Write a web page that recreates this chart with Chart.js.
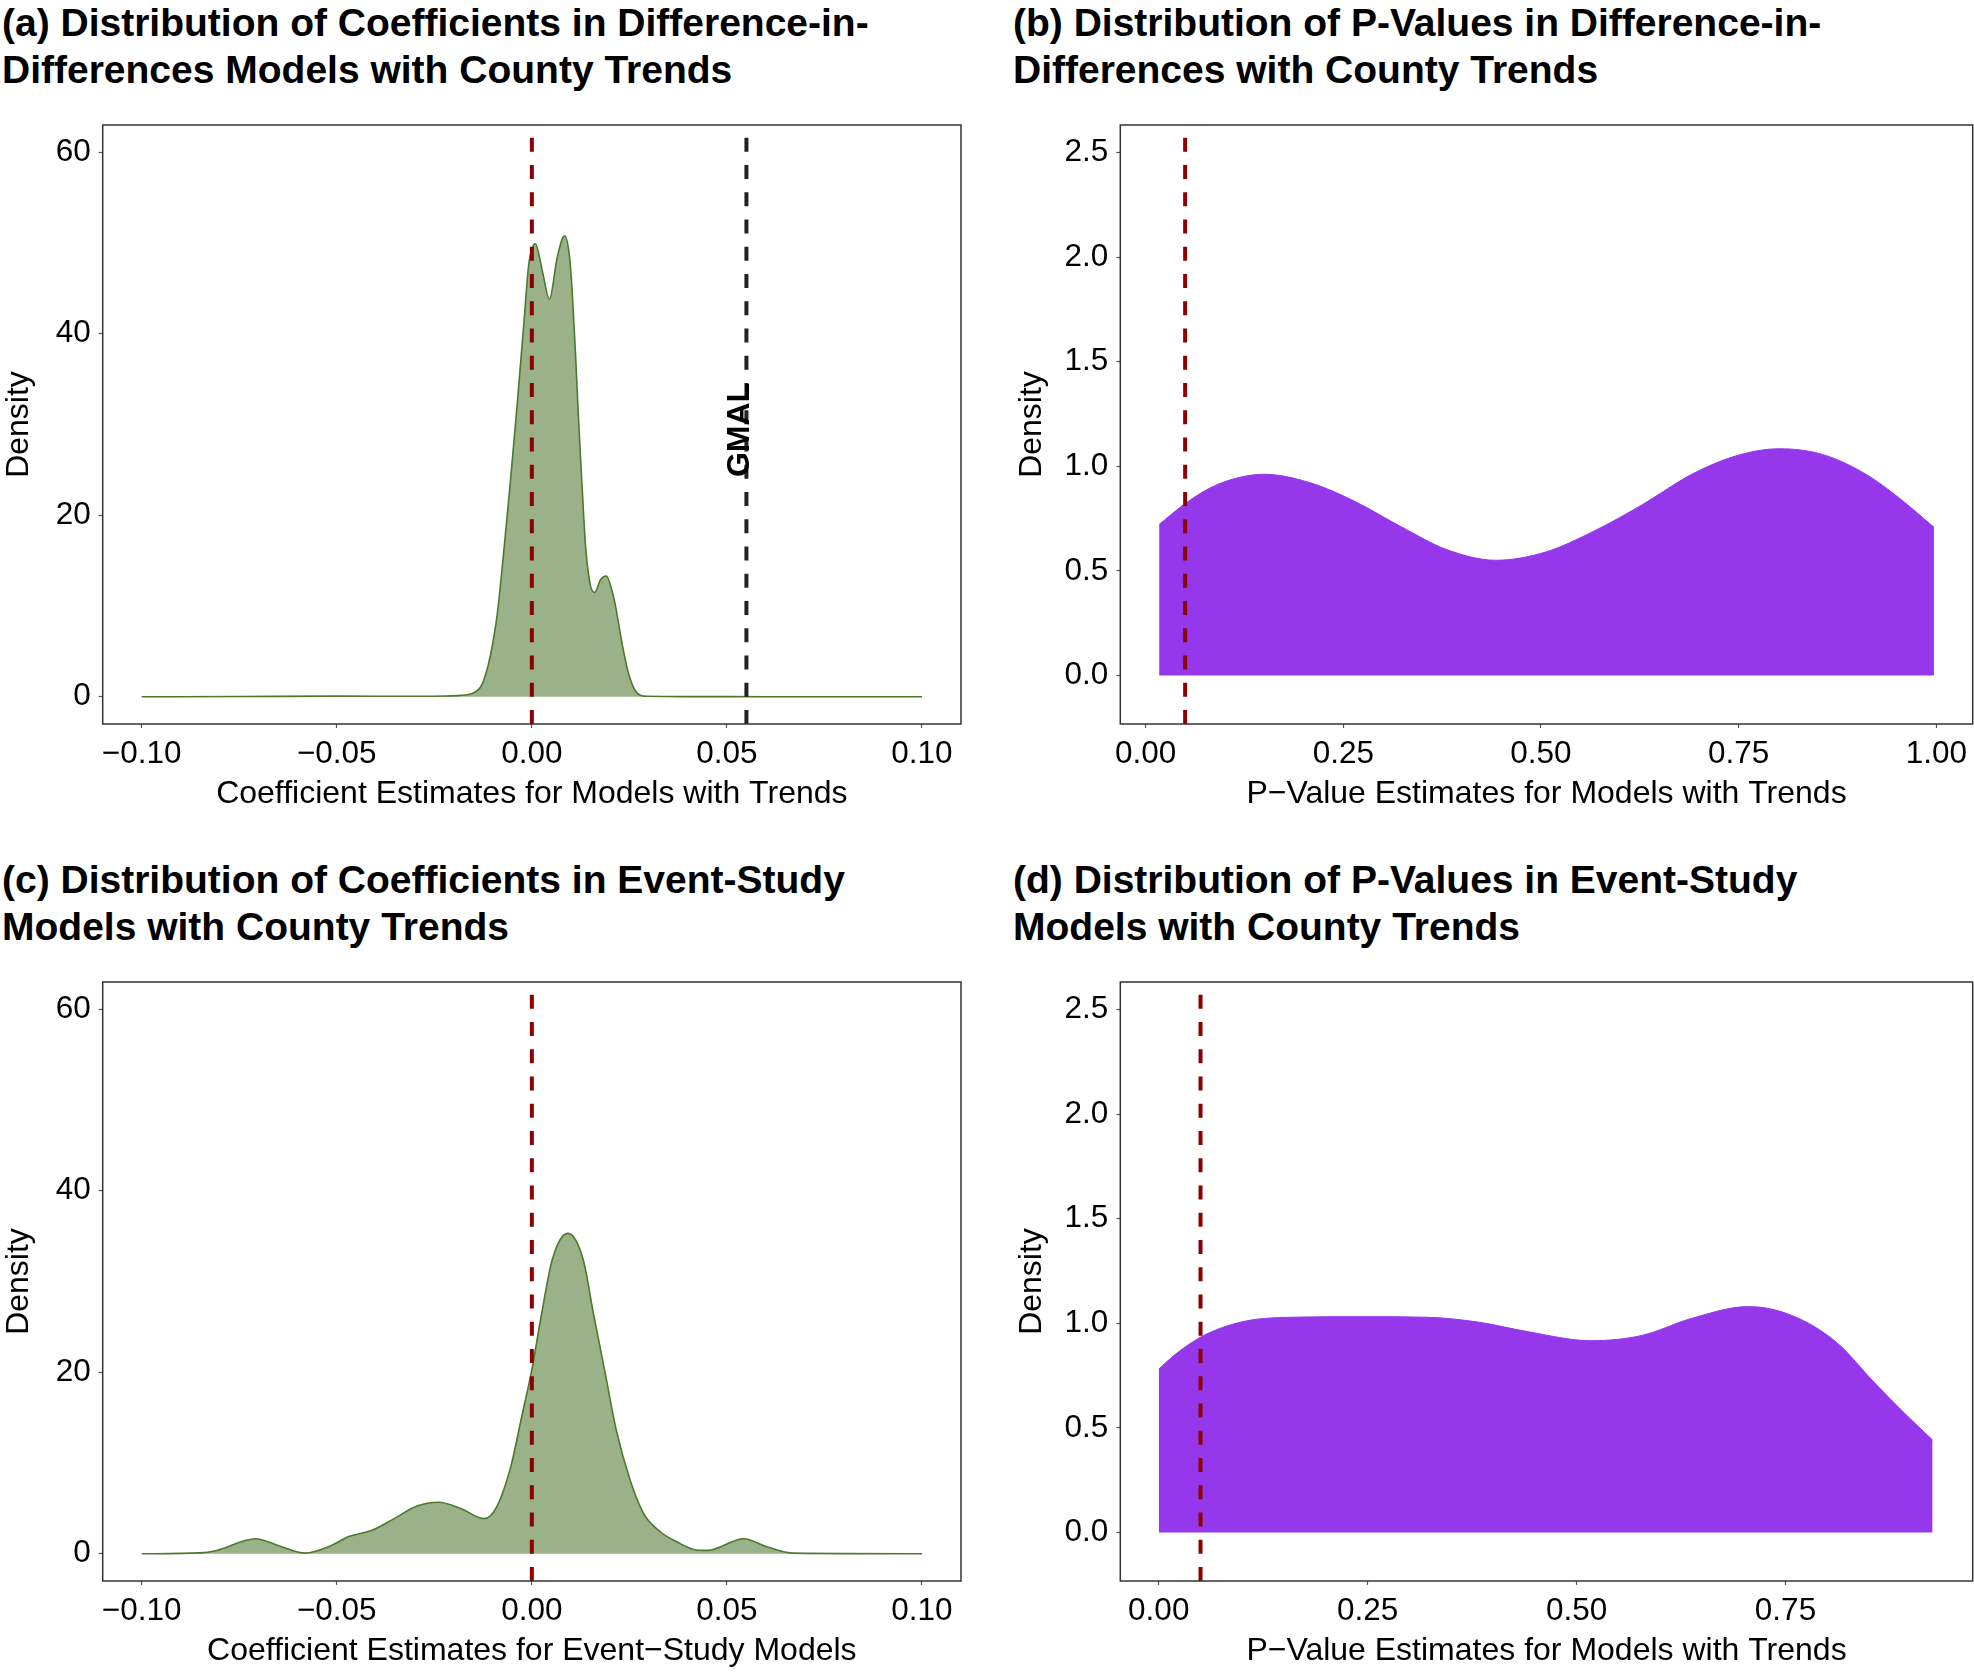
<!DOCTYPE html>
<html>
<head>
<meta charset="utf-8">
<script src="https://cdn.jsdelivr.net/npm/chart.js@4.4.0/dist/chart.umd.min.js"></script>
<style>
  body { margin: 0; background: #fff; width: 1974px; height: 1673px; position: relative; overflow: hidden;
         font-family: "Liberation Sans", Arial, sans-serif; }
  .ttl { position: absolute; font-weight: bold; font-size: 39px; line-height: 46.5px; color: #000; white-space: nowrap; }
  canvas { position: absolute; }
</style>
</head>
<body>
<div class="ttl" style="left:2px;top:0px">(a) Distribution of Coefficients in Difference-in-<br>Differences Models with County Trends</div>
<div class="ttl" style="left:1013px;top:0px">(b) Distribution of P-Values in Difference-in-<br>Differences with County Trends</div>
<div class="ttl" style="left:2px;top:857px">(c) Distribution of Coefficients in Event-Study<br>Models with County Trends</div>
<div class="ttl" style="left:1013px;top:857px">(d) Distribution of P-Values in Event-Study<br>Models with County Trends</div>

<canvas id="chartA" width="987" height="730" style="left:0;top:105px"></canvas>
<canvas id="chartB" width="961" height="730" style="left:1013px;top:105px"></canvas>
<canvas id="chartC" width="987" height="730" style="left:0;top:962px"></canvas>
<canvas id="chartD" width="961" height="730" style="left:1013px;top:962px"></canvas>

<script>
// (a) density of DiD coefficients
const didCoefX = [-0.100, -0.075, -0.050, -0.030, -0.022, -0.0183, -0.0157, -0.0131, -0.0118, -0.0106,
                  -0.0089, -0.0072, -0.0055, -0.0037, -0.0020, -0.0008, 0.0009, 0.0027, 0.0045, 0.0065,
                  0.0084, 0.0096, 0.0103, 0.0112, 0.0120, 0.0129, 0.0138, 0.0150, 0.0161, 0.0176,
                  0.0191, 0.0206, 0.0214, 0.0232, 0.0249, 0.0270, 0.0295, 0.040, 0.060, 0.100];
const didCoefY = [0, 0.03, 0.07, 0.05, 0.08, 0.15, 0.3, 1.1, 2.5, 4.6,
                  9.0, 16.0, 23.7, 32.5, 41.4, 47.6, 49.9, 46.9, 43.8, 48.4,
                  50.8, 48.7, 45.0, 37.7, 30.3, 23.0, 16.4, 12.3, 11.5, 12.9,
                  13.3, 11.6, 10.1, 5.7, 2.4, 0.4, 0.05, 0.02, 0.01, 0];

// (c) density of event-study coefficients
const esCoefX = [-0.100, -0.0851, -0.0808, -0.0708, -0.0651, -0.058, -0.0523, -0.0467, -0.041, -0.0353,
                 -0.0296, -0.0239, -0.0182, -0.0122, -0.009, -0.0054, -0.0026, 0.000, 0.0024, 0.0053,
                 0.0092, 0.0131, 0.0159, 0.0188, 0.0216, 0.0252, 0.0287, 0.033, 0.0373, 0.0415,
                 0.0451, 0.0543, 0.060, 0.0671, 0.100];
const esCoefY = [0, 0.1, 0.37, 1.66, 0.92, 0.07, 0.74, 1.92, 2.58, 3.87,
                 5.24, 5.68, 4.98, 3.87, 5.17, 9.6, 15.1, 20.3, 26.2, 32.5,
                 35.3, 32.5, 26.2, 19.9, 13.7, 8.1, 4.4, 2.4, 1.29, 0.48,
                 0.37, 1.66, 0.81, 0.07, 0];

// (b) density of DiD p-values
const didPvalX = [0.0171, 0.0515, 0.0914, 0.150, 0.2085, 0.2637, 0.3256, 0.3808, 0.4427, 0.5047,
                  0.5668, 0.6287, 0.6907, 0.7458, 0.801, 0.856, 0.911, 0.9525, 0.997];
const didPvalY = [0.722, 0.826, 0.914, 0.962, 0.921, 0.834, 0.706, 0.602, 0.551, 0.589,
                  0.690, 0.818, 0.962, 1.049, 1.084, 1.057, 0.962, 0.850, 0.709];

// (d) density of event-study p-values
const esPvalX = [0, 0.0203, 0.0505, 0.0806, 0.111, 0.156, 0.246, 0.3215, 0.382, 0.442,
                 0.517, 0.578, 0.638, 0.7056, 0.758, 0.811, 0.856, 0.894, 0.926];
const esPvalY = [0.781, 0.853, 0.935, 0.986, 1.016, 1.029, 1.032, 1.029, 1.006, 0.960,
                 0.917, 0.942, 1.024, 1.080, 1.037, 0.909, 0.718, 0.564, 0.442];

// ticks
const coefTicksX = [-0.10, -0.05, 0, 0.05, 0.10];
const coefTickLabelsX = ['\u22120.10', '\u22120.05', '0.00', '0.05', '0.10'];
const coefTicksY = [0, 20, 40, 60];
const coefTickLabelsY = ['0', '20', '40', '60'];
const pvalTicksX = [0, 0.25, 0.5, 0.75, 1];
const pvalTickLabelsX = ['0.00', '0.25', '0.50', '0.75', '1.00'];
const pvalTicksY = [0, 0.5, 1, 1.5, 2, 2.5];
const pvalTickLabelsY = ['0.0', '0.5', '1.0', '1.5', '2.0', '2.5'];

// reference lines
const zeroEffect = 0;
const pCutoff = 0.05;
const gmalEstimate = 0.055;
const gmalLabel = 'GMAL';
const gmalLabelPos = [0.0533, 29.4];

const FONT = '"Liberation Sans", Arial, sans-serif';

// full box around the plot area
const frameBox = {
    id: 'frameBox',
    afterDatasetsDraw(chart) {
        const { ctx, chartArea: a } = chart;
        ctx.save();
        ctx.strokeStyle = '#333';
        ctx.lineWidth = 1.5;
        ctx.strokeRect(a.left, a.top, a.right - a.left, a.bottom - a.top);
        ctx.restore();
    }
};

// rotated text next to a reference line
const lineLabel = {
    id: 'lineLabel',
    afterDatasetsDraw(chart, args, opts) {
        if (!opts.text) return;
        const { ctx, scales } = chart;
        ctx.save();
        ctx.translate(scales.x.getPixelForValue(opts.x), scales.y.getPixelForValue(opts.y));
        ctx.rotate(-Math.PI / 2);
        ctx.font = 'bold 32px ' + FONT;
        ctx.fillStyle = '#000';
        ctx.textAlign = 'center';
        ctx.textBaseline = 'middle';
        ctx.fillText(opts.text, 0, 0);
        ctx.restore();
    }
};

function vline(x, yMin, yMax, color) {
    return {
        data: [{ x: x, y: yMin }, { x: x, y: yMax }],
        borderColor: color,
        borderWidth: 4,
        borderDash: [14, 13.25],
        pointRadius: 0,
        fill: false
    };
}

function densityPanel(id, o) {
    const pts = o.xs.map((x, i) => ({ x: x, y: o.ys[i] }));
    const datasets = o.vlines.map(v => vline(v.x, o.yMin, o.yMax, v.color));
    datasets.push({
        data: pts,
        borderColor: o.stroke,
        borderWidth: o.strokeWidth,
        backgroundColor: o.fill,
        fill: 'origin',
        pointRadius: 0,
        cubicInterpolationMode: 'monotone'
    });

    const tickFont = { family: FONT, size: 31.5 };
    const titleFont = { family: FONT, size: 32 };

    new Chart(document.getElementById(id).getContext('2d'), {
        type: 'line',
        data: { datasets: datasets },
        options: {
            responsive: false,
            animation: false,
            layout: { padding: { left: 0, top: 20, right: o.padRight, bottom: 0 } },
            scales: {
                x: {
                    type: 'linear',
                    min: o.xMin,
                    max: o.xMax,
                    afterBuildTicks: s => { s.ticks = o.xTicks.filter(v => v >= o.xMin && v <= o.xMax).map(v => ({ value: v })); },
                    afterFit: s => { s.height = 111; s.paddingLeft = 0; s.paddingRight = 0; },
                    ticks: {
                        font: tickFont,
                        color: '#000',
                        padding: 7,
                        maxRotation: 0,
                        autoSkip: false,
                        callback: v => o.xLabels[o.xTicks.indexOf(v)]
                    },
                    grid: { drawOnChartArea: false, drawTicks: true, tickLength: 4, tickColor: '#555', tickWidth: 1.2 },
                    border: { display: false },
                    title: { display: true, text: o.xTitle, font: titleFont, color: '#000', padding: { top: 0, bottom: 21.5 } }
                },
                y: {
                    type: 'linear',
                    min: o.yMin,
                    max: o.yMax,
                    afterBuildTicks: s => { s.ticks = o.yTicks.map(v => ({ value: v })); },
                    afterFit: s => { s.width = o.yWidth; s.paddingTop = 0; s.paddingBottom = 0; },
                    ticks: {
                        font: tickFont,
                        color: '#000',
                        padding: 8,
                        autoSkip: false,
                        callback: v => o.yLabels[o.yTicks.indexOf(v)]
                    },
                    grid: { drawOnChartArea: false, drawTicks: true, tickLength: 4, tickColor: '#555', tickWidth: 1.2 },
                    border: { display: false },
                    title: { display: true, text: 'Density', font: titleFont, color: '#000', padding: { top: 0, bottom: 0 } }
                }
            },
            plugins: {
                legend: { display: false },
                tooltip: { enabled: false },
                lineLabel: o.label || {}
            }
        },
        plugins: [frameBox, lineLabel]
    });
}

const green = { fill: '#9bb18a', stroke: '#4b7a2b', strokeWidth: 1.6 };
const purple = { fill: '#9538eb', stroke: '#9538eb', strokeWidth: 1 };

densityPanel('chartA', Object.assign({
    xs: didCoefX, ys: didCoefY,
    xMin: -0.11, xMax: 0.11, yMin: -3, yMax: 63,
    xTicks: coefTicksX, xLabels: coefTickLabelsX, yTicks: coefTicksY, yLabels: coefTickLabelsY,
    xTitle: 'Coefficient Estimates for Models with Trends',
    vlines: [{ x: zeroEffect, color: '#8b0000' }, { x: gmalEstimate, color: '#222222' }],
    label: { text: gmalLabel, x: gmalLabelPos[0], y: gmalLabelPos[1] },
    yWidth: 102.7, padRight: 26
}, green));

densityPanel('chartB', Object.assign({
    xs: didPvalX, ys: didPvalY,
    xMin: -0.032, xMax: 1.046, yMin: -0.232, yMax: 2.632,
    xTicks: pvalTicksX, xLabels: pvalTickLabelsX, yTicks: pvalTicksY, yLabels: pvalTickLabelsY,
    xTitle: 'P\u2212Value Estimates for Models with Trends',
    vlines: [{ x: pCutoff, color: '#8b0000' }],
    yWidth: 107.3, padRight: 1.3
}, purple));

densityPanel('chartC', Object.assign({
    xs: esCoefX, ys: esCoefY,
    xMin: -0.11, xMax: 0.11, yMin: -3, yMax: 63,
    xTicks: coefTicksX, xLabels: coefTickLabelsX, yTicks: coefTicksY, yLabels: coefTickLabelsY,
    xTitle: 'Coefficient Estimates for Event\u2212Study Models',
    vlines: [{ x: zeroEffect, color: '#8b0000' }],
    yWidth: 102.7, padRight: 26
}, green));

densityPanel('chartD', Object.assign({
    xs: esPvalX, ys: esPvalY,
    xMin: -0.046, xMax: 0.974, yMin: -0.232, yMax: 2.632,
    xTicks: pvalTicksX, xLabels: pvalTickLabelsX, yTicks: pvalTicksY, yLabels: pvalTickLabelsY,
    xTitle: 'P\u2212Value Estimates for Models with Trends',
    vlines: [{ x: pCutoff, color: '#8b0000' }],
    yWidth: 107.3, padRight: 1.3
}, purple));
</script>
</body>
</html>
